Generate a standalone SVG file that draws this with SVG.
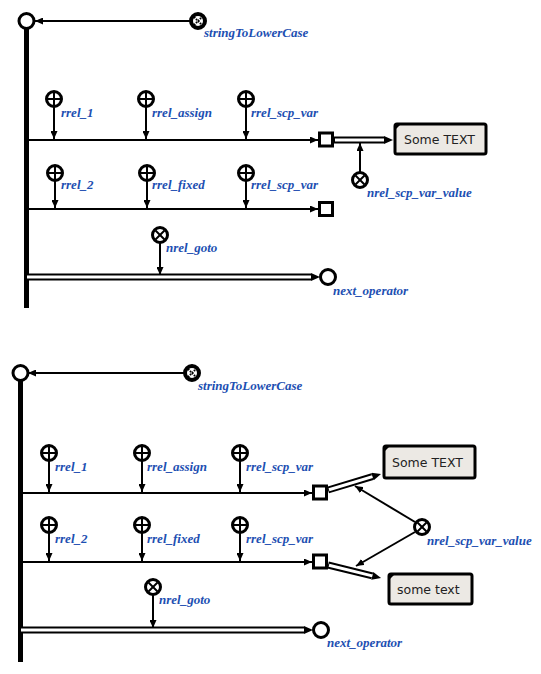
<svg xmlns="http://www.w3.org/2000/svg" width="541" height="674" viewBox="0 0 541 674">
<defs>
<style>
.lbl{font-family:"Liberation Serif",serif;font-weight:bold;font-style:italic;font-size:13px;fill:#1d4fb2}
.btxt{font-family:"DejaVu Sans",sans-serif;font-size:12.5px;fill:#222}
.bar{stroke:#000;stroke-width:5}
.ln{stroke:#000;stroke-width:2;fill:none}
.dbl{stroke:#000;stroke-width:7;fill:none}
.dblin{stroke:#fff;stroke-width:3;fill:none}
.ring{fill:#fff;stroke:#000;stroke-width:3}
.fring{fill:#fff;stroke:#000;stroke-width:4}
.sq{fill:#fff;stroke:#000;stroke-width:3}
.box{fill:#ece9e4;stroke:#000;stroke-width:3}
.cross{stroke:#000;stroke-width:2}
.dx{stroke:#000;stroke-width:2;stroke-dasharray:1.6 1.2}
</style>
<marker id="ah" markerUnits="userSpaceOnUse" viewBox="0 0 8 7" markerWidth="8" markerHeight="7" refX="8" refY="3.5" orient="auto"><path d="M0,0 L8,3.5 L0,7 z" fill="#000"/></marker>
<marker id="dh" markerUnits="userSpaceOnUse" viewBox="0 0 9 8" markerWidth="9" markerHeight="8" refX="0" refY="4" orient="auto"><path d="M0,0 L9,4 L0,8 z" fill="#000"/></marker>
<g id="plus"><circle r="7.5" class="ring"/><line x1="-6" y1="0" x2="6" y2="0" class="cross"/><line x1="0" y1="-6" x2="0" y2="6" class="cross"/></g>
<g id="times"><circle r="7.5" class="ring"/><line x1="-4.5" y1="-4.5" x2="4.5" y2="4.5" class="cross"/><line x1="-4.5" y1="4.5" x2="4.5" y2="-4.5" class="cross"/></g>
<g id="func"><circle r="7" class="fring"/><line x1="-4" y1="-4" x2="4" y2="4" class="dx"/><line x1="-4" y1="4" x2="4" y2="-4" class="dx"/></g>
</defs>

<!-- ===== Top diagram ===== -->
<g id="connectors-top">
<line x1="26.5" y1="26" x2="26.5" y2="308" class="bar"/>
<line x1="190" y1="21" x2="35" y2="21" class="ln" marker-end="url(#ah)"/>
<line x1="54" y1="107" x2="54" y2="139" class="ln" marker-end="url(#ah)"/>
<line x1="146" y1="107" x2="146" y2="139" class="ln" marker-end="url(#ah)"/>
<line x1="246" y1="107" x2="246" y2="139" class="ln" marker-end="url(#ah)"/>
<line x1="29" y1="140" x2="318" y2="140" class="ln" marker-end="url(#ah)"/>
<line x1="55" y1="181" x2="55" y2="208" class="ln" marker-end="url(#ah)"/>
<line x1="147" y1="181" x2="147" y2="208" class="ln" marker-end="url(#ah)"/>
<line x1="246" y1="181" x2="246" y2="208" class="ln" marker-end="url(#ah)"/>
<line x1="29" y1="209" x2="318" y2="209" class="ln" marker-end="url(#ah)"/>
<line x1="334" y1="140" x2="384" y2="140" class="dbl" marker-end="url(#dh)"/>
<line x1="335" y1="140" x2="384" y2="140" class="dblin"/>
<line x1="360" y1="172" x2="360" y2="143" class="ln" marker-end="url(#ah)"/>
<line x1="160" y1="243" x2="160" y2="275" class="ln" marker-end="url(#ah)"/>
<line x1="26" y1="277" x2="311" y2="277" class="dbl" marker-end="url(#dh)"/>
<line x1="27" y1="277" x2="311" y2="277" class="dblin"/>
</g>
<g id="t-start"><circle cx="26.5" cy="21" r="7.5" class="ring"/></g>
<g id="t-stringToLowerCase"><use href="#func" x="198" y="21"/><text x="204" y="37" class="lbl">stringToLowerCase</text></g>
<g id="t-rrel_1"><use href="#plus" x="54" y="99"/><text x="61" y="117" class="lbl">rrel_1</text></g>
<g id="t-rrel_assign"><use href="#plus" x="146" y="99"/><text x="152" y="117" class="lbl">rrel_assign</text></g>
<g id="t-rrel_scp_var1"><use href="#plus" x="246" y="99"/><text x="251" y="117" class="lbl">rrel_scp_var</text></g>
<g id="t-sq1"><rect x="319.5" y="133" width="13" height="13" class="sq"/></g>
<g id="t-rrel_2"><use href="#plus" x="55" y="173"/><text x="61" y="189" class="lbl">rrel_2</text></g>
<g id="t-rrel_fixed"><use href="#plus" x="147" y="173"/><text x="152" y="189" class="lbl">rrel_fixed</text></g>
<g id="t-rrel_scp_var2"><use href="#plus" x="246" y="173"/><text x="251" y="189" class="lbl">rrel_scp_var</text></g>
<g id="t-sq2"><rect x="319.5" y="202.5" width="13" height="13" class="sq"/></g>
<g id="t-box"><rect x="395" y="124" width="91" height="30" rx="2" class="box"/><path d="M395,124 h6 l-6,6 z" fill="#000"/><text x="404" y="144" class="btxt">Some TEXT</text></g>
<g id="t-nrel_scp_var_value"><use href="#times" x="360" y="180"/><text x="367" y="197" class="lbl">nrel_scp_var_value</text></g>
<g id="t-nrel_goto"><use href="#times" x="160" y="235"/><text x="166" y="252" class="lbl">nrel_goto</text></g>
<g id="t-next_operator"><circle cx="328" cy="277" r="7.5" class="ring"/><text x="333" y="295" class="lbl">next_operator</text></g>

<!-- ===== Bottom diagram ===== -->
<g id="connectors-bottom">
<line x1="20.5" y1="378" x2="20.5" y2="662" class="bar"/>
<line x1="184" y1="373" x2="28" y2="373" class="ln" marker-end="url(#ah)"/>
<line x1="49" y1="461" x2="49" y2="492" class="ln" marker-end="url(#ah)"/>
<line x1="142" y1="461" x2="142" y2="492" class="ln" marker-end="url(#ah)"/>
<line x1="240" y1="461" x2="240" y2="492" class="ln" marker-end="url(#ah)"/>
<line x1="22" y1="493" x2="312" y2="493" class="ln" marker-end="url(#ah)"/>
<line x1="49" y1="533" x2="49" y2="561" class="ln" marker-end="url(#ah)"/>
<line x1="142" y1="533" x2="142" y2="561" class="ln" marker-end="url(#ah)"/>
<line x1="240" y1="533" x2="240" y2="561" class="ln" marker-end="url(#ah)"/>
<line x1="22" y1="562" x2="312" y2="562" class="ln" marker-end="url(#ah)"/>
<line x1="328" y1="490" x2="372.4" y2="476.6" class="dbl" marker-end="url(#dh)"/>
<line x1="329" y1="489.7" x2="372.4" y2="476.6" class="dblin"/>
<line x1="328" y1="565" x2="372.3" y2="575.9" class="dbl" marker-end="url(#dh)"/>
<line x1="329" y1="565.3" x2="372.3" y2="575.9" class="dblin"/>
<line x1="415" y1="522" x2="355" y2="486" class="ln" marker-end="url(#ah)"/>
<line x1="415" y1="532" x2="356" y2="566" class="ln" marker-end="url(#ah)"/>
<line x1="153" y1="595" x2="153" y2="628" class="ln" marker-end="url(#ah)"/>
<line x1="20" y1="630" x2="304" y2="630" class="dbl" marker-end="url(#dh)"/>
<line x1="21" y1="630" x2="304" y2="630" class="dblin"/>
</g>
<g id="b-start"><circle cx="20.5" cy="373" r="7.5" class="ring"/></g>
<g id="b-stringToLowerCase"><use href="#func" x="192" y="373"/><text x="198" y="390" class="lbl">stringToLowerCase</text></g>
<g id="b-rrel_1"><use href="#plus" x="49" y="453"/><text x="55" y="471" class="lbl">rrel_1</text></g>
<g id="b-rrel_assign"><use href="#plus" x="142" y="453"/><text x="147" y="471" class="lbl">rrel_assign</text></g>
<g id="b-rrel_scp_var1"><use href="#plus" x="240" y="453"/><text x="246" y="471" class="lbl">rrel_scp_var</text></g>
<g id="b-sq1"><rect x="313.5" y="486" width="13" height="13" class="sq"/></g>
<g id="b-rrel_2"><use href="#plus" x="49" y="525"/><text x="55" y="543" class="lbl">rrel_2</text></g>
<g id="b-rrel_fixed"><use href="#plus" x="142" y="525"/><text x="147" y="543" class="lbl">rrel_fixed</text></g>
<g id="b-rrel_scp_var2"><use href="#plus" x="240" y="525"/><text x="246" y="543" class="lbl">rrel_scp_var</text></g>
<g id="b-sq2"><rect x="313.5" y="555" width="13" height="13" class="sq"/></g>
<g id="b-box1"><rect x="384" y="446" width="91" height="32" rx="2" class="box"/><path d="M384,446 h6 l-6,6 z" fill="#000"/><text x="392" y="467" class="btxt">Some TEXT</text></g>
<g id="b-box2"><rect x="389" y="574" width="83" height="30" rx="2" class="box"/><path d="M389,574 h6 l-6,6 z" fill="#000"/><text x="397" y="594" class="btxt">some text</text></g>
<g id="b-nrel_scp_var_value"><use href="#times" x="422" y="527"/><text x="427" y="545" class="lbl">nrel_scp_var_value</text></g>
<g id="b-nrel_goto"><use href="#times" x="153" y="587"/><text x="159" y="604" class="lbl">nrel_goto</text></g>
<g id="b-next_operator"><circle cx="321" cy="630" r="7.5" class="ring"/><text x="327" y="647" class="lbl">next_operator</text></g>
</svg>
